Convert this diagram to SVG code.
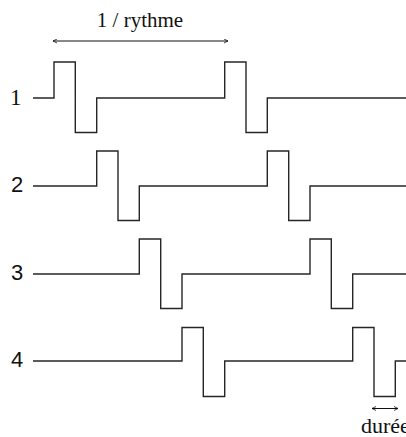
<svg xmlns="http://www.w3.org/2000/svg" width="406" height="437" viewBox="0 0 406 437">
<defs>
<style>
.sig{fill:none;stroke:#262626;stroke-width:1.4}
.ser{font-family:"Liberation Serif","Times New Roman",serif;fill:#111}
.san{font-family:"Liberation Sans",Arial,sans-serif;fill:#111}
.dim{fill:none;stroke:#111;stroke-width:1}
</style>
<marker id="ah" viewBox="0 0 10 10" refX="9" refY="5" markerWidth="5" markerHeight="5" orient="auto-start-reverse" markerUnits="userSpaceOnUse">
<path d="M1,1 L9,5 L1,9" fill="none" stroke="#111" stroke-width="1.6"/>
</marker>
</defs>
<rect width="406" height="437" fill="#fff"/>
<g id="connectors">
<path class="sig" d="M33,98 H54 V62 H75.3 V132.5 H96.7 V98 H224.7 V62 H246 V132.5 H267.3 V98 H410"/>
<path class="sig" d="M33,186 H96.7 V151 H118 V220.5 H139.3 V186 H267.3 V151 H288.7 V220.5 H310 V186 H410"/>
<path class="sig" d="M33,274 H139.3 V239 H160.7 V308.5 H182 V274 H310 V239 H331.3 V308.5 H352.7 V274 H410"/>
<path class="sig" d="M33,361 H182 V327.5 H203.3 V396.5 H224.7 V361 H352.7 V327.5 H374 V396.5 H395.3 V361 H410"/>
<line class="dim" x1="53" y1="41" x2="228" y2="41" marker-start="url(#ah)" marker-end="url(#ah)"/>
<line class="dim" x1="372" y1="408.5" x2="398" y2="408.5" marker-start="url(#ah)" marker-end="url(#ah)"/>
</g>
<g id="label-rythme"><text class="ser" x="140" y="27" font-size="21" text-anchor="middle">1 / rythme</text></g>
<g id="label-1"><text class="ser" x="10" y="105" font-size="23">1</text></g>
<g id="label-2"><text class="san" x="11" y="192" font-size="22">2</text></g>
<g id="label-3"><text class="san" x="11" y="280" font-size="22">3</text></g>
<g id="label-4"><text class="san" x="11" y="367" font-size="22">4</text></g>
<g id="label-duree"><text class="ser" x="361" y="433" font-size="22">durée</text></g>
</svg>
